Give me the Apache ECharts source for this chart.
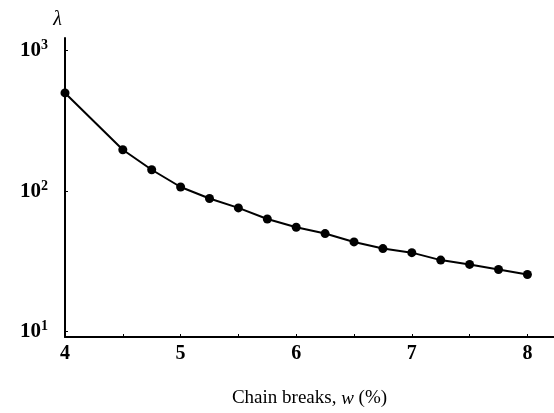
<!DOCTYPE html>
<html>
<head>
<meta charset="utf-8">
<script src="https://cdn.jsdelivr.net/npm/echarts@6/dist/echarts.min.js"></script>
<style>
  html, body { margin: 0; padding: 0; background: #fff; }
  #chart { width: 554px; height: 413px; }
</style>
</head>
<body>
<div id="chart"></div>
<script>
// chain breaks w (%) and the value of lambda
const breaks = [4, 4.5, 4.75, 5, 5.25, 5.5, 5.75, 6, 6.25, 6.5, 6.75, 7, 7.25, 7.5, 7.75, 8]
const lambda = [500, 197, 142, 107, 88.7, 76, 63.4, 55.3, 49.9, 43.5, 39, 36.5, 32.3, 30.1, 27.7, 25.5]

const xLabels = [4, 5, 6, 7, 8]
const xTicks = [4.5, 5, 5.5, 6, 6.5, 7, 7.5, 8]
const yTicks = [10, 100, 1000]
const sup = { 10: '1', 100: '2', 1000: '3' }

const serif = '"Liberation Serif", "DejaVu Serif", serif'

const chart = echarts.init(document.getElementById('chart'), null, { renderer: 'canvas' })

chart.setOption({
  animation: false,
  grid: { left: 65, right: 0, top: 38, bottom: 75, containLabel: false },
  xAxis: {
    type: 'value',
    min: 4,
    max: 8.23,
    name: '{n|Chain breaks, }{i|w}{n| (%)}',
    nameLocation: 'middle',
    nameGap: 52,
    nameTextStyle: {
      rich: {
        n: { fontFamily: serif, fontSize: 19, color: '#000' },
        i: { fontFamily: serif, fontSize: 19, fontStyle: 'italic', color: '#000' },
      },
    },
    axisLine: { show: true, lineStyle: { color: '#000', width: 2 } },
    axisTick: { show: true, inside: true, length: 3, customValues: xTicks, lineStyle: { color: '#000', width: 1 } },
    axisLabel: {
      customValues: xLabels,
      margin: 7,
      fontFamily: serif,
      fontWeight: 'bold',
      fontSize: 20,
      color: '#000',
    },
    splitLine: { show: false },
  },
  yAxis: {
    type: 'log',
    logBase: 10,
    min: 9.16,
    max: 1230,
    name: 'λ',
    nameLocation: 'end',
    nameGap: 8,
    nameTextStyle: { fontFamily: serif, fontStyle: 'italic', fontSize: 20, color: '#000', align: 'right', padding: [0, 3, 0, 0] },
    axisLine: { show: true, lineStyle: { color: '#000', width: 2 } },
    axisTick: { show: true, inside: true, length: 3, customValues: yTicks, lineStyle: { color: '#000', width: 1 } },
    axisLabel: {
      customValues: yTicks,
      margin: 17,
      formatter: v => '{b|10}{s|' + sup[Math.round(v)] + '}',
      rich: {
        b: { fontFamily: serif, fontWeight: 'bold', fontSize: 21, color: '#000' },
        s: { fontFamily: serif, fontWeight: 'bold', fontSize: 14, color: '#000', verticalAlign: 'top', padding: [0, 0, 10, 0] },
      },
    },
    splitLine: { show: false },
  },
  series: [{
    type: 'line',
    data: breaks.map((w, i) => [w, lambda[i]]),
    lineStyle: { color: '#000', width: 2 },
    itemStyle: { color: '#000' },
    symbol: 'circle',
    symbolSize: 9,
    clip: false,
  }],
})
</script>
</body>
</html>
